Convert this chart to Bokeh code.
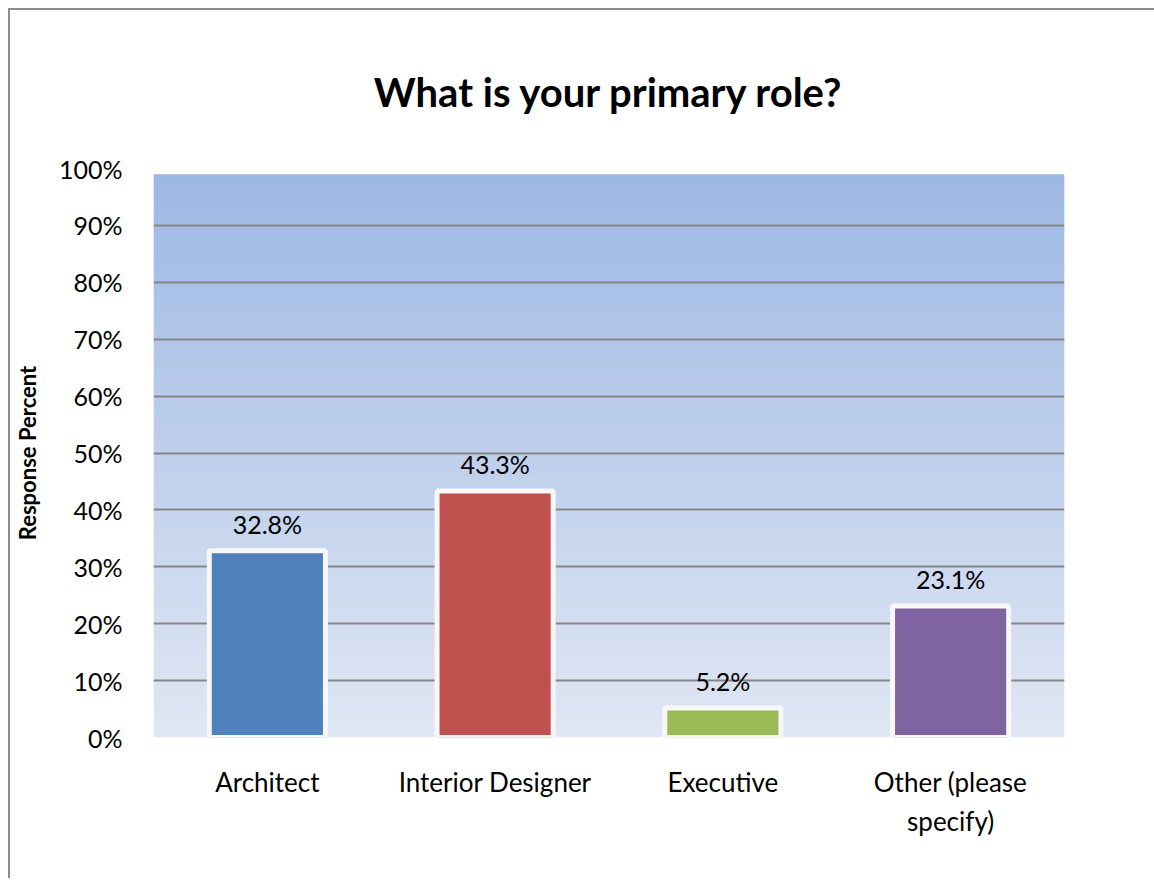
from bokeh.plotting import figure
from bokeh.models import (ColumnDataSource, Range1d, FactorRange, LabelSet, NumeralTickFormatter,
                          FixedTicker, CategoricalAxis)
from bokeh.embed import file_html
from bokeh.resources import INLINE
from bokeh.core.properties import value

categories = ["Architect", "Interior Designer", "Executive", "Other (please specify)"]
cat_line1 = ["Architect", "Interior Designer", "Executive", "Other (please"]
cat_line2 = ["", "", "", "specify)"]
percent = [0.328, 0.433, 0.052, 0.231]
pct_labels = ["32.8%", "43.3%", "5.2%", "23.1%"]
bar_colors = ["#4f81bd", "#c0504d", "#9bbb59", "#8064a2"]
y_ticks = [0.0, 0.1, 0.2, 0.3, 0.4, 0.5, 0.6, 0.7, 0.8, 0.9, 1.0]

FONT = "Lato"

p = figure(
    x_range=FactorRange(*cat_line1),
    y_range=Range1d(0, 1.0),
    frame_width=911, frame_height=569,
    min_border_left=143, min_border_right=90,
    min_border_top=158, min_border_bottom=141,
    output_backend="svg", toolbar_location=None,
    background_fill_color="white", border_fill_color="white",
)
p.outline_line_color = None
p.styles = {"margin-left": "8px", "margin-top": "8px",
            "border-left": "2px solid #8c8c8c", "border-top": "2px solid #8c8c8c"}

p.title.text = "What is your primary role?"
p.title.align = "center"
p.title.text_font = FONT
p.title.text_font_size = "40px"
p.title.text_font_style = "bold"
p.title.text_color = "black"
p.title.standoff = 106
p.title.offset = -11

# gradient plot-area background (styling only)
n = 80
top_rgb = (157, 184, 228)
bot_rgb = (224, 231, 244)
bottoms, tops, fills = [], [], []
for i in range(n):
    f = (i + 0.5) / n
    bottoms.append(0.99 * i / n)
    tops.append(min(0.99, 0.99 * (i + 1) / n + 0.004))
    c = tuple(int(round(bot_rgb[k] + (top_rgb[k] - bot_rgb[k]) * f)) for k in range(3))
    fills.append("#%02x%02x%02x" % c)
p.quad(left=0, right=4, bottom=bottoms, top=tops, fill_color=fills, line_color=None, level="image")

src = ColumnDataSource(dict(cat=cat_line1, name=categories, val=percent, lab=pct_labels, col=bar_colors))
p.vbar(x="cat", top="val", width=0.51, source=src, fill_color="col",
       line_color="#f7f7f7", line_width=5)

labels = LabelSet(x="cat", y="val", text="lab", source=src, text_align="center",
                  text_baseline="bottom", y_offset=12, text_font=value(FONT),
                  text_font_size="25px", text_color="black")
p.add_layout(labels)

p.xgrid.grid_line_color = None
p.ygrid.ticker = FixedTicker(ticks=y_ticks)
p.ygrid.grid_line_color = "#868686"
p.ygrid.grid_line_width = 2

p.yaxis.ticker = FixedTicker(ticks=y_ticks)
p.yaxis.formatter = NumeralTickFormatter(format="0%")
p.yaxis.axis_line_color = None
p.yaxis.major_tick_line_color = None
p.yaxis.minor_tick_line_color = None
p.yaxis.major_tick_out = 0
p.yaxis.major_label_text_font = FONT
p.yaxis.major_label_text_font_size = "25px"
p.yaxis.major_label_text_color = "black"
p.yaxis.major_label_standoff = 31
p.yaxis.axis_label = "Response Percent"
p.yaxis.axis_label_text_font = FONT
p.yaxis.axis_label_text_font_size = "22px"
p.yaxis.axis_label_text_font_style = "bold"
p.yaxis.axis_label_text_color = "black"
p.yaxis.axis_label_standoff = 15

def style_x(ax, standoff):
    ax.axis_line_color = None
    ax.major_tick_line_color = None
    ax.minor_tick_line_color = None
    ax.major_tick_out = 0
    ax.major_label_text_font = FONT
    ax.major_label_text_font_size = "26px"
    ax.major_label_text_color = "black"
    ax.major_label_standoff = standoff

style_x(p.xaxis[0], 28)

# second line of the multi-line category labels (blank factors made unique with zero-width spaces)
line2_factors = [t if t else "\u200b" * (i + 1) for i, t in enumerate(cat_line2)]
p.extra_x_ranges = {"line2": FactorRange(*line2_factors)}
ax2 = CategoricalAxis(x_range_name="line2")
style_x(ax2, 4)
p.add_layout(ax2, "below")

open("out.html", "w").write(file_html(p, INLINE))
